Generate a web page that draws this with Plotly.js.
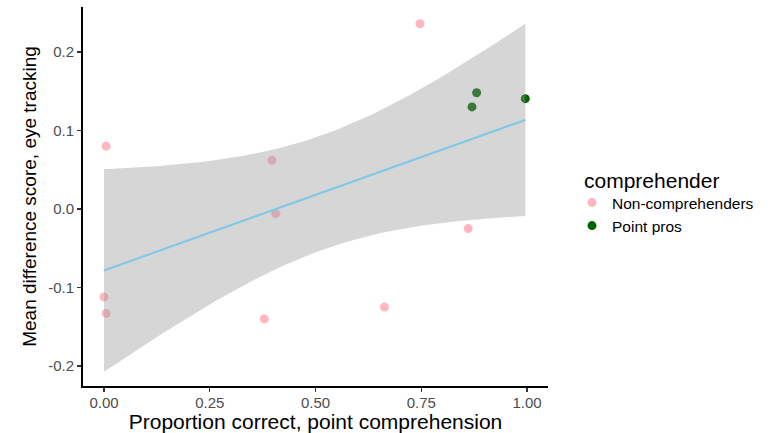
<!DOCTYPE html>
<html>
<head>
<meta charset="utf-8">
<script src="https://cdn.plot.ly/plotly-3.0.1.min.js"></script>
<style>html,body{margin:0;padding:0;background:#fff;}#chart{width:776px;height:433px;}</style>
</head>
<body>
<div id="chart"></div>
<script>
// Data
const nonCompX = [0.005, 0.397, 0.406, 0.747, 0.861, 0.663, 0.000, 0.005, 0.379];
const nonCompY = [0.080, 0.062, -0.006, 0.236, -0.025, -0.125, -0.112, -0.133, -0.140];
const proX = [0.881, 0.870, 0.996];
const proY = [0.148, 0.130, 0.1405];
const groupNames = ["Non-comprehenders", "Point pros"];
const legendTitle = "comprehender";
const xTicks = [0, 0.25, 0.5, 0.75, 1.0];
const xTickText = ["0.00", "0.25", "0.50", "0.75", "1.00"];
const yTicks = [-0.2, -0.1, 0.0, 0.1, 0.2];
const yTickText = ["-0.2", "-0.1", "0.0", "0.1", "0.2"];

// Linear fit with 95% confidence band (as geom_smooth(method = "lm"))
const allX = nonCompX.concat(proX);
const allY = nonCompY.concat(proY);
const n = allX.length;
const mx = allX.reduce((a, b) => a + b, 0) / n;
const my = allY.reduce((a, b) => a + b, 0) / n;
let sxx = 0, sxy = 0;
for (let i = 0; i < n; i++) { sxx += (allX[i] - mx) ** 2; sxy += (allX[i] - mx) * (allY[i] - my); }
const slope = sxy / sxx;
const intercept = my - slope * mx;
let sse = 0;
for (let i = 0; i < n; i++) { sse += (allY[i] - (intercept + slope * allX[i])) ** 2; }
const s = Math.sqrt(sse / (n - 2));
const tCrit = 2.228; // t(0.975, df = 10)
const xmin = Math.min(...allX), xmax = Math.max(...allX);
const fx = [], fy = [], lo = [], hi = [];
for (let k = 0; k <= 80; k++) {
  const x = xmin + (xmax - xmin) * k / 80;
  const y = intercept + slope * x;
  const se = s * Math.sqrt(1 / n + (x - mx) ** 2 / sxx);
  fx.push(x); fy.push(y); lo.push(y - tCrit * se); hi.push(y + tCrit * se);
}

const traces = [
  {x: nonCompX, y: nonCompY, type: "scatter", mode: "markers", name: groupNames[0],
   marker: {color: "#FFB6C1", size: 9}, showlegend: true},
  {x: proX, y: proY, type: "scatter", mode: "markers", name: groupNames[1],
   marker: {color: "#006400", size: 9}, showlegend: true},
  {x: fx, y: lo, type: "scatter", mode: "lines", line: {width: 0, color: "rgba(0,0,0,0)"},
   showlegend: false, hoverinfo: "skip"},
  {x: fx, y: hi, type: "scatter", mode: "lines", line: {width: 0, color: "rgba(0,0,0,0)"},
   fill: "tonexty", fillcolor: "rgba(153,153,153,0.4)", showlegend: false, hoverinfo: "skip"},
  {x: fx, y: fy, type: "scatter", mode: "lines", line: {color: "#7EC8E8", width: 2},
   showlegend: false, hoverinfo: "skip"}
];

const layout = {
  width: 776, height: 433,
  margin: {l: 83, r: 228, t: 7, b: 47},
  paper_bgcolor: "#fff", plot_bgcolor: "#fff",
  font: {family: "Liberation Sans, Arial, sans-serif", color: "#000"},
  showlegend: true,
  xaxis: {
    range: [-0.0497, 1.0497], tickvals: xTicks, ticktext: xTickText,
    showgrid: false, zeroline: false, showline: true, linecolor: "#000", linewidth: 2,
    ticks: "outside", ticklen: 4, tickwidth: 1.2, tickcolor: "#333",
    tickfont: {size: 15, color: "#4d4d4d"}, ticklabelstandoff: -2,
    automargin: false,
    title: {text: "Proportion correct, point comprehension", font: {size: 21, color: "#000"}, standoff: 0}
  },
  yaxis: {
    range: [-0.2255, 0.2573], tickvals: yTicks, ticktext: yTickText,
    showgrid: false, zeroline: false, showline: true, linecolor: "#000", linewidth: 2,
    ticks: "outside", ticklen: 4, tickwidth: 1.2, tickcolor: "#333",
    tickfont: {size: 15, color: "#4d4d4d"}, automargin: false,
    title: {text: "Mean difference score, eye tracking", font: {size: 19, color: "#000"}, standoff: 6}
  },
  legend: {
    x: 1.0516, xanchor: "left", y: 0.528, yanchor: "top",
    font: {size: 15.5, color: "#000"}, traceorder: "normal", tracegroupgap: 0
  },
  annotations: [{
    text: legendTitle, xref: "paper", yref: "paper", x: 1.0731, y: 0.5435,
    xanchor: "left", yanchor: "middle", showarrow: false,
    font: {size: 21, color: "#000"}
  }]
};

Plotly.newPlot("chart", traces, layout, {staticPlot: true, displayModeBar: false});
</script>
</body>
</html>
